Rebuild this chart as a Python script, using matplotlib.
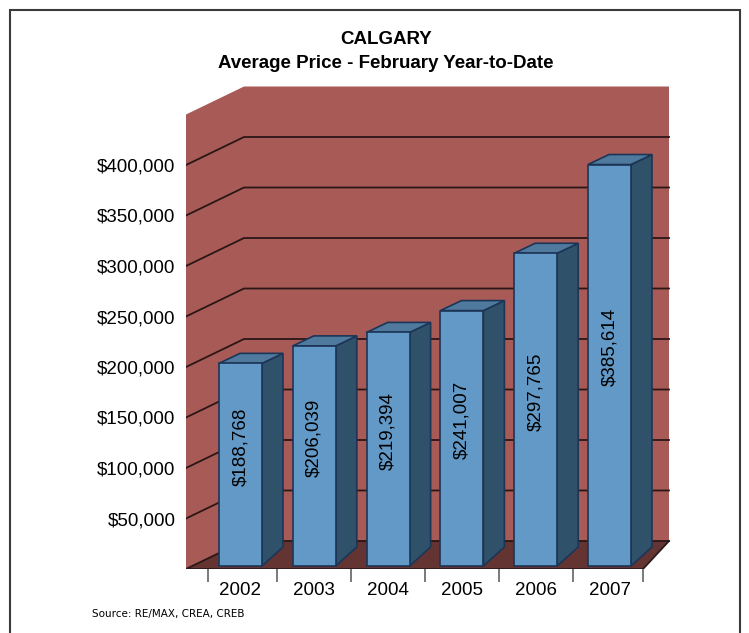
import matplotlib.pyplot as plt
from matplotlib.patches import Polygon, Rectangle

# Calgary average price, February year-to-date
years = ["2002", "2003", "2004", "2005", "2006", "2007"]
avg_price = [188768, 206039, 219394, 241007, 297765, 385614]
y_ticks = [50000, 100000, 150000, 200000, 250000, 300000, 350000, 400000]
wall_top = 450000

plt.rcParams["font.family"] = ["Liberation Sans", "DejaVu Sans"]

W, H, DPI = 749, 633, 100
fig = plt.figure(figsize=(W / DPI, H / DPI), dpi=DPI)

# layout of the plot box in pixels
PX_CAT = 73.8          # px per category step
PX_VAL = 1.01 / 1000   # px per dollar
X0_PX = 240.5          # centre of first category
ZERO_PX = 569          # front edge of the floor (value 0)
LEFT_PX, RIGHT_PX, TOP_PX = 186, 680, 80

ax = fig.add_axes([LEFT_PX / W, 1 - ZERO_PX / H,
                   (RIGHT_PX - LEFT_PX) / W, (ZERO_PX - TOP_PX) / H])
ax.set_xlim((LEFT_PX - X0_PX) / PX_CAT, (RIGHT_PX - X0_PX) / PX_CAT)
ax.set_ylim(0, (ZERO_PX - TOP_PX) / PX_VAL)
ax.set_facecolor("none")
for s in ax.spines.values():
    s.set_visible(False)

# fake 3D box: floor front edge and how far the back wall is pushed
x_front_l = (LEFT_PX - X0_PX) / PX_CAT
x_front_r = (643 - X0_PX) / PX_CAT
shift_l, shift_r = 58 / PX_CAT, 26 / PX_CAT
depth_v = 28 / PX_VAL


def proj(x, v, d):
    t = (x - x_front_l) / (x_front_r - x_front_l)
    return (x + d * (shift_l + t * (shift_r - shift_l)), v + d * depth_v)


wall_col = "#A85B56"
floor_col = "#643433"
grid_col = "#2A1616"

wall = [proj(x_front_l, 0, 0), proj(x_front_l, 0, 1), proj(x_front_r, 0, 1),
        proj(x_front_r, wall_top, 1), proj(x_front_l, wall_top, 1),
        proj(x_front_l, wall_top, 0)]
ax.add_patch(Polygon(wall, closed=True, fc=wall_col, ec="none", zorder=1))

floor = [proj(x_front_l, 0, 0), proj(x_front_r, 0, 0),
         proj(x_front_r, 0, 1), proj(x_front_l, 0, 1)]
ax.add_patch(Polygon(floor, closed=True, fc=floor_col, ec="none", zorder=1))

# gridlines run along the left wall and across the back wall
for v in [0] + y_ticks:
    pts = [proj(x_front_l, v, 0), proj(x_front_l, v, 1), proj(x_front_r, v, 1)]
    ax.plot([p[0] for p in pts], [p[1] for p in pts], color=grid_col,
            lw=1.3, zorder=2, solid_joinstyle="miter")

# floor edges
edge = [proj(x_front_l, 0, 0), proj(x_front_r, 0, 0), proj(x_front_r, 0, 1)]
ax.plot([p[0] for p in edge], [p[1] for p in edge], color="#2A1A1A", lw=1.3, zorder=2)

# columns
bar_w = 43 / PX_CAT
bar_dx = 21 / PX_CAT
bar_dy = 10 / PX_VAL
bar_lift = (ZERO_PX - 554) / PX_VAL
foot_front = (ZERO_PX - 566) / PX_VAL
foot_back = (ZERO_PX - 547) / PX_VAL
label_floor = (ZERO_PX - 530) / PX_VAL
front_col, side_col, top_col, bar_edge = "#6399C7", "#2F5169", "#50799E", "#1C3557"

for i, v in enumerate(avg_price):
    x0, x1 = i - bar_w / 2, i + bar_w / 2
    top = bar_lift + v
    side = [(x1, foot_front), (x1, top), (x1 + bar_dx, top + bar_dy), (x1 + bar_dx, foot_back)]
    lid = [(x0, top), (x1, top), (x1 + bar_dx, top + bar_dy), (x0 + bar_dx, top + bar_dy)]
    face = [(x0, foot_front), (x1, foot_front), (x1, top), (x0, top)]
    for poly, col in ((side, side_col), (lid, top_col), (face, front_col)):
        ax.add_patch(Polygon(poly, closed=True, fc=col, ec=bar_edge, lw=1.2,
                             joinstyle="miter", zorder=3))
    ax.text(i, (top + label_floor) / 2, f"${v:,}", rotation=90, ha="center",
            va="center", fontsize=13.5, color="black", zorder=4)

# axes ticks and labels
ax.set_xticks(range(len(years)), years)
ax.set_xticks([-0.44, 0.5, 1.5, 2.5, 3.5, 4.5, x_front_r], minor=True)
ax.tick_params(axis="x", which="major", length=0, pad=9.5, labelsize=13.5)
ax.tick_params(axis="x", which="minor", length=9.4, width=1.3, color="#6E6E6E")
ax.set_yticks(y_ticks, [f"${t:,}" for t in y_ticks])
ax.tick_params(axis="y", length=0, pad=7.5, labelsize=13.5)

fig.text(386 / W, 1 - 40 / H, "CALGARY", ha="center", va="center",
         fontsize=13.5, fontweight="bold")
fig.text(386 / W, 1 - 63 / H, "Average Price - February Year-to-Date",
         ha="center", va="center", fontsize=13.5, fontweight="bold")
fig.text(92 / W, 1 - 614 / H, "Source: RE/MAX, CREA, CREB", va="center",
         fontsize=7.5, family=["Liberation Sans Narrow", "DejaVu Sans"])

# outer frame
fig.add_artist(Rectangle((10 / W, -0.05), 730 / W, 1.05 - 10 / H,
                         transform=fig.transFigure, fill=False,
                         ec="#3A3A3A", lw=1.5))

fig.savefig("out.png", dpi=DPI)
